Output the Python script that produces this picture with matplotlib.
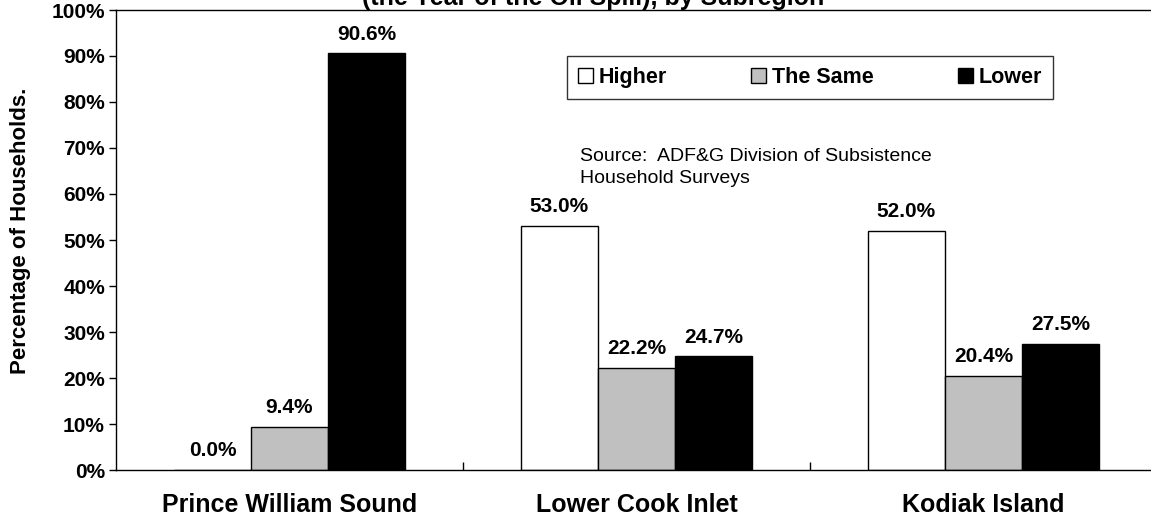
import matplotlib.pyplot as plt
import numpy as np

# Data
regions = ["Prince William Sound", "Lower Cook Inlet", "Kodiak Island"]
series = ["Higher", "The Same", "Lower"]
higher = [0.0, 53.0, 52.0]
same = [9.4, 22.2, 20.4]
lower = [90.6, 24.7, 27.5]
colors = ["white", "#C0C0C0", "black"]
yticks = [0, 10, 20, 30, 40, 50, 60, 70, 80, 90, 100]

W, H = 1151, 529
fig = plt.figure(figsize=(W / 100, H / 100), dpi=100)
plt.rcParams['font.family'] = ['Liberation Sans', 'DejaVu Sans']

ax = fig.add_axes([116 / W, (H - 470) / H, 1041 / W, 460 / H])

x = np.arange(len(regions))
bw = 0.222
for i, (vals, col) in enumerate(zip([higher, same, lower], colors)):
    bars = ax.bar(x + (i - 1) * bw, vals, bw, color=col, edgecolor="black",
                  linewidth=1.0, label=series[i])
    for b, v in zip(bars, vals):
        ax.annotate("%.1f%%" % v, (b.get_x() + bw / 2, v), xytext=(0, 7),
                    textcoords="offset points", ha="center", va="bottom",
                    fontsize=15, fontweight="bold")

ax.set_xlim(-0.5, 2.5)
ax.set_ylim(0, 100)
ax.set_yticks(yticks)
ax.set_yticklabels(["%d%%" % t for t in yticks], fontsize=15, fontweight="bold")
ax.tick_params(axis="y", direction="out", length=5, width=1, pad=3)

# category boundary ticks pointing inward, labels centred under groups
ax.set_xticks([0.5, 1.5])
ax.set_xticklabels([])
ax.tick_params(axis="x", direction="in", length=6, width=1)
for xi, name in zip(x, regions):
    ax.text(xi, -0.076, name, transform=ax.get_xaxis_transform(), ha="center",
            va="center", fontsize=18, fontweight="bold")

ax.spines["right"].set_visible(False)
for s in ["left", "bottom", "top"]:
    ax.spines[s].set_linewidth(1.0)

ax.set_ylabel("Percentage of Households.", fontsize=16, fontweight="bold")
ax.yaxis.set_label_coords(-0.082, 0.52)

leg = fig.legend(loc="center", bbox_to_anchor=(567 / W, 1 - 100 / H,
                 486 / W, 45 / H), mode="expand", ncol=3, frameon=True,
                 fancybox=False, edgecolor="black", handlelength=0.7,
                 handleheight=0.7, handletextpad=0.25, borderaxespad=0,
                 prop={"size": 15.5, "weight": "bold"}, borderpad=0.5)
leg.get_frame().set_linewidth(1.0)

fig.text(580 / W, 1 - 148 / H, "Source:  ADF&G Division of Subsistence\nHousehold Surveys",
         ha="left", va="top", fontsize=14, linespacing=1.35)

fig.text(593 / W, 1 - 5 / H, "(the Year of the Oil Spill), by Subregion",
         ha="center", va="baseline", fontsize=18, fontweight="bold")

fig.savefig("out.png", dpi=100)
